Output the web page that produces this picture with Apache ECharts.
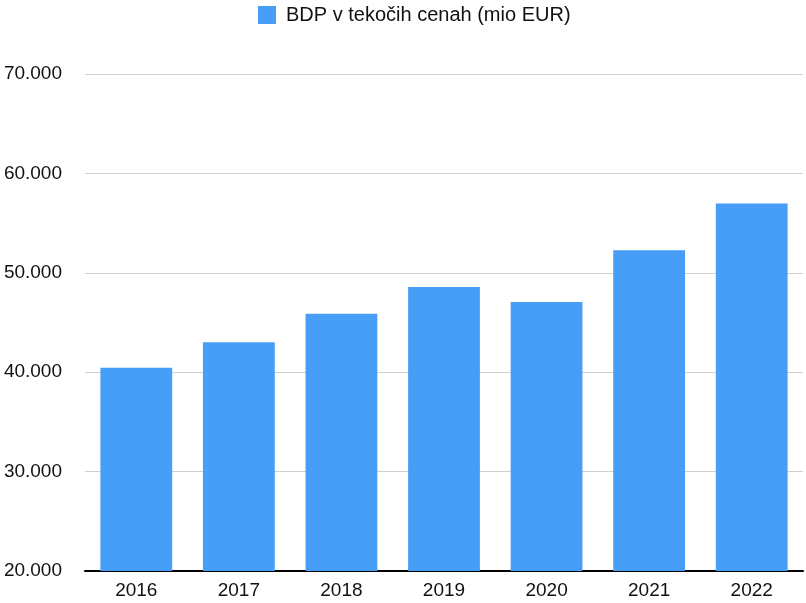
<!DOCTYPE html>
<html>
<head>
<meta charset="utf-8">
<script src="https://cdn.jsdelivr.net/npm/echarts@6/dist/echarts.min.js"></script>
<style>
  html, body { margin: 0; padding: 0; background: #fff; }
  #main { width: 806px; height: 603px; }
</style>
</head>
<body>
<div id="main"></div>
<script>
var years = ["2016", "2017", "2018", "2019", "2020", "2021", "2022"];
var bdp = [40440, 43010, 45880, 48580, 47050, 52280, 56980];
var seriesName = "BDP v tekočih cenah (mio EUR)";

var chartDom = document.getElementById("main");
var myChart = echarts.init(chartDom);

var option = {
  animation: false,
  textStyle: { fontFamily: "Liberation Sans, Arial, sans-serif" },
  legend: {
    top: 0,
    left: 253,
    icon: "rect",
    itemWidth: 18,
    itemHeight: 18,
    itemGap: 10,
    textStyle: { fontSize: 20, color: "#111", padding: [0, 0, 0, 5] },
    data: [seriesName]
  },
  grid: {
    left: 85,
    right: 3,
    top: 74,
    bottom: 32
  },
  xAxis: {
    type: "category",
    data: years,
    axisTick: { show: false },
    axisLine: { lineStyle: { color: "#000", width: 2 } },
    axisLabel: { fontSize: 19, color: "#111", margin: 10 }
  },
  yAxis: {
    type: "value",
    min: 20000,
    max: 70000,
    interval: 10000,
    axisLine: { show: false },
    axisTick: { show: false },
    splitLine: { lineStyle: { color: "#cfcfcf", width: 1 } },
    axisLabel: {
      fontSize: 19,
      color: "#111",
      margin: 23,
      formatter: function (v) {
        return String(v).replace(/\B(?=(\d{3})+(?!\d))/g, ".");
      }
    }
  },
  series: [
    {
      name: seriesName,
      type: "bar",
      data: bdp,
      barWidth: "70%",
      itemStyle: { color: "#479ef6" }
    }
  ]
};

option && myChart.setOption(option);
</script>
</body>
</html>
